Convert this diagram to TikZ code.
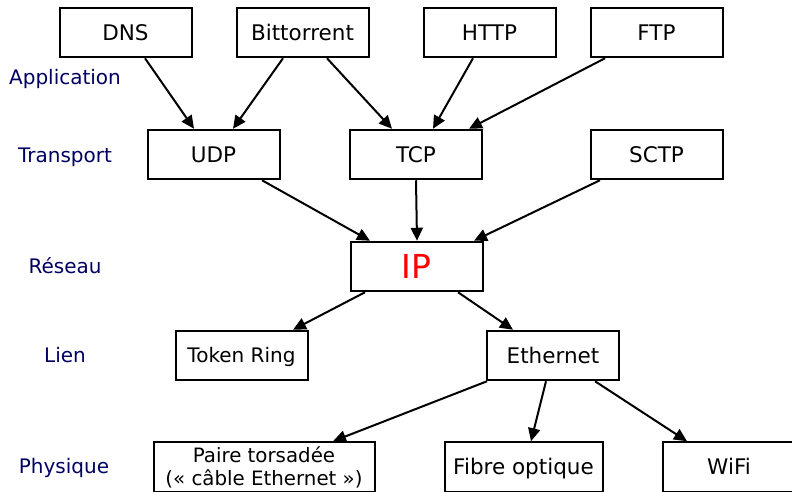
\documentclass[tikz,border=0pt]{standalone}
\usepackage{fontspec}
\setmainfont{DejaVu Sans}
\usetikzlibrary{arrows.meta}
\definecolor{layer}{RGB}{0,0,96}
\tikzset{
  boxbase/.style={draw, line width=2pt, minimum width=132pt, minimum height=49.5pt, inner sep=2pt, align=center},
  box/.style={boxbase, font=\fontsize{21.5}{25}\selectfont, text height=15.7pt, text depth=0pt},
  layerlab/.style={text=layer, font=\fontsize{20}{24}\selectfont, text height=14.6pt, text depth=0pt},
  arr/.style={line width=2pt, -{Triangle[length=13pt,width=12pt]}}
}
\begin{document}
\begin{tikzpicture}[x=1pt,y=-1pt]
\useasboundingbox (0,0) rectangle (792,491);
% layer labels
\node[layerlab] (lapp) at (65,77.5) {Application};
\node[layerlab] (ltra) at (65,155) {Transport};
\node[layerlab] (lres) at (65,266.5) {Réseau};
\node[layerlab] (llie) at (65,355.5) {Lien};
\node[layerlab] (lphy) at (64,466.5) {Physique};
% application
\node[box] (dns) at (125.5,32.5) {DNS};
\node[box] (bit) at (302.5,32.5) {Bittorrent};
\node[box] (http) at (489.5,32.5) {HTTP};
\node[box] (ftp) at (656.5,32.5) {FTP};
% transport
\node[box] (udp) at (213.5,154.5) {UDP};
\node[box] (tcp) at (416,154.5) {TCP};
\node[box] (sctp) at (656.5,154.5) {SCTP};
% network
\node[box, text=red, font=\fontsize{33}{36}\selectfont, text height=24pt] (ip) at (416.5,266.5) {IP};
% link
\node[box, font=\fontsize{20}{23}\selectfont, text height=14.6pt] (tok) at (241.5,355.5) {Token Ring};
\node[box] (eth) at (553,355.5) {Ethernet};
% physical
\node[boxbase, minimum width=221pt, font=\fontsize{19.8}{23}\selectfont, inner sep=1pt] (paire) at (264,467) {Paire torsadée\\(« câble Ethernet »)};
\node[box, minimum width=158pt] (fib) at (523.5,467) {Fibre optique};
\node[box, minimum width=133pt] (wifi) at (729,467) {WiFi};
% arrows
\draw[arr] ([xshift=19.5pt]dns.south) -- ([xshift=-19.5pt]udp.north);
\draw[arr] ([xshift=-19.5pt]bit.south) -- ([xshift=19.5pt]udp.north);
\draw[arr] ([xshift=24.5pt]bit.south) -- ([xshift=-24pt]tcp.north);
\draw[arr] ([xshift=-16.5pt]http.south) -- ([xshift=17pt]tcp.north);
\draw[arr] ([xshift=-51.5pt]ftp.south) -- ([xshift=53pt]tcp.north);
\draw[arr] ([xshift=48.5pt]udp.south) -- ([xshift=-46.5pt]ip.north);
\draw[arr] (tcp.south) -- ([xshift=0.5pt]ip.north);
\draw[arr] ([xshift=-56.5pt]sctp.south) -- ([xshift=57.5pt]ip.north);
\draw[arr] ([xshift=-51.5pt]ip.south) -- ([xshift=51.5pt]tok.north);
\draw[arr] ([xshift=41.5pt]ip.south) -- ([xshift=-40pt]eth.north);
\draw[arr] ([xshift=-66pt]eth.south) -- ([xshift=69pt]paire.north);
\draw[arr] ([xshift=-7pt]eth.south) -- ([xshift=7.5pt]fib.north);
\draw[arr] ([xshift=42pt]eth.south) -- ([xshift=-42pt]wifi.north);
\end{tikzpicture}
\end{document}
